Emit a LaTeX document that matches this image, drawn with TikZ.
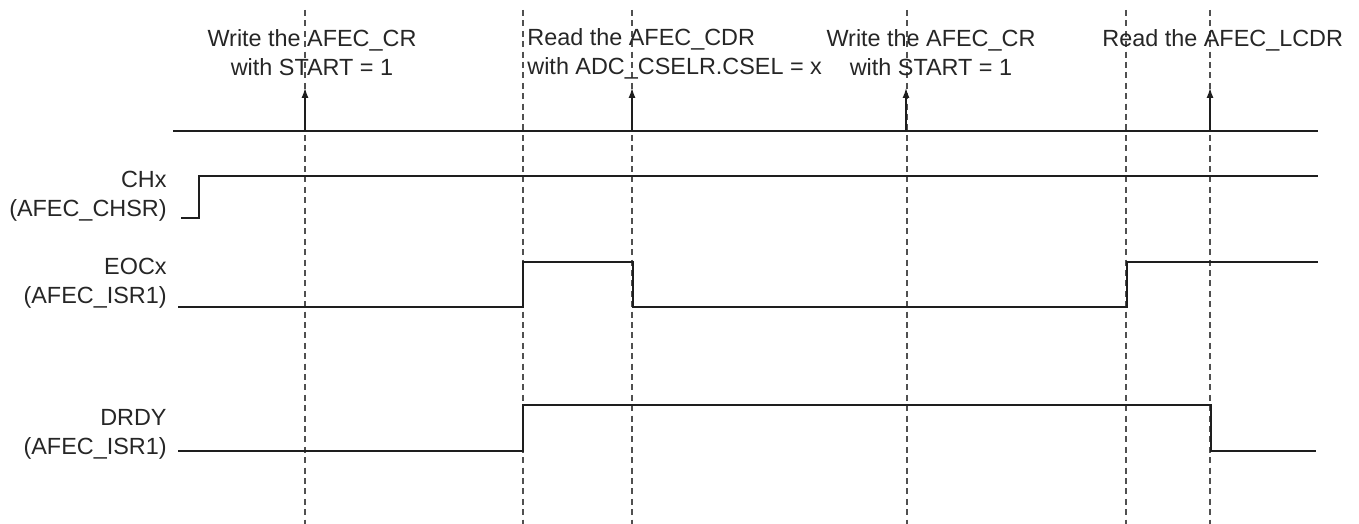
\documentclass[tikz,border=0pt]{standalone}
\usepackage{fontspec}
\setmainfont{Liberation Sans}
\usepackage{xcolor}
\definecolor{afecink}{HTML}{1E1E1E}
\definecolor{afectext}{HTML}{262626}
\definecolor{afecgrid}{HTML}{505050}
\usetikzlibrary{arrows.meta}

\begin{document}
\begin{tikzpicture}[
  x=0.5pt, y=-0.5pt,
  font=\fontsize{11.7pt}{14.5pt}\selectfont,
  wave/.style={draw=afecink, line width=1.35pt, line join=miter},
  guide/.style={draw=afecgrid, line width=0.6pt, dash pattern=on 3pt off 2.2pt},
  evt/.style={-{Latex[length=5pt,width=3.5pt]}, draw=afecink, line width=0.65pt},
  lbl/.style={text=afectext, inner sep=0pt, align=center},
  sig/.style={text=afectext, inner sep=0pt, align=right, anchor=east},
]
\useasboundingbox (0,0) rectangle (1359,524);

% ---- dashed event markers
\foreach \k/\x in {1/305, 2/523, 3/632, 4/907, 5/1126, 6/1210} {
  \coordinate (gt\k) at (\x,10);
  \coordinate (gb\k) at (\x,524);
  \draw[guide] (gt\k) -- (gb\k);
}

% ---- software accesses on the bus line
\draw[wave] (173,131) -- (1318,131);
\foreach \k/\x in {1/305, 2/632, 3/906, 4/1210} {
  \coordinate (ab\k) at (\x,131);
  \coordinate (at\k) at (\x,88);
  \draw[evt] (ab\k) -- (at\k);
}
\node[lbl] (wr1) at (312,52.5) {Write the AFEC\_CR\\with START = 1};
\node[lbl, align=left, anchor=west] (rd1) at (527,54)
  {Read the AFEC\_CDR\\with ADC\_CSELR.CSEL = x};
\node[lbl] (wr2) at (931,52.5) {Write the AFEC\_CR\\with START = 1};
\node[lbl, anchor=west] (rd2) at (1102,40) {Read the AFEC\_LCDR};

% ---- signal names
\node[sig] (chx) at (167,196) {CHx\\(AFEC\_CHSR)};
\node[sig] (eoc) at (167,283.5) {EOCx\\(AFEC\_ISR1)};
\node[sig] (drdy) at (167,434.5) {DRDY\\(AFEC\_ISR1)};

% ---- waveforms
\draw[wave] (181,218) -- (199,218) -- (199,176) -- (1318,176);
\draw[wave] (178,307) -- (523,307) -- (523,262) -- (633,262) -- (633,307)
  -- (1127,307) -- (1127,262) -- (1318,262);
\draw[wave] (178,451) -- (523,451) -- (523,405) -- (1211,405) -- (1211,451)
  -- (1316,451);
\end{tikzpicture}
\end{document}
